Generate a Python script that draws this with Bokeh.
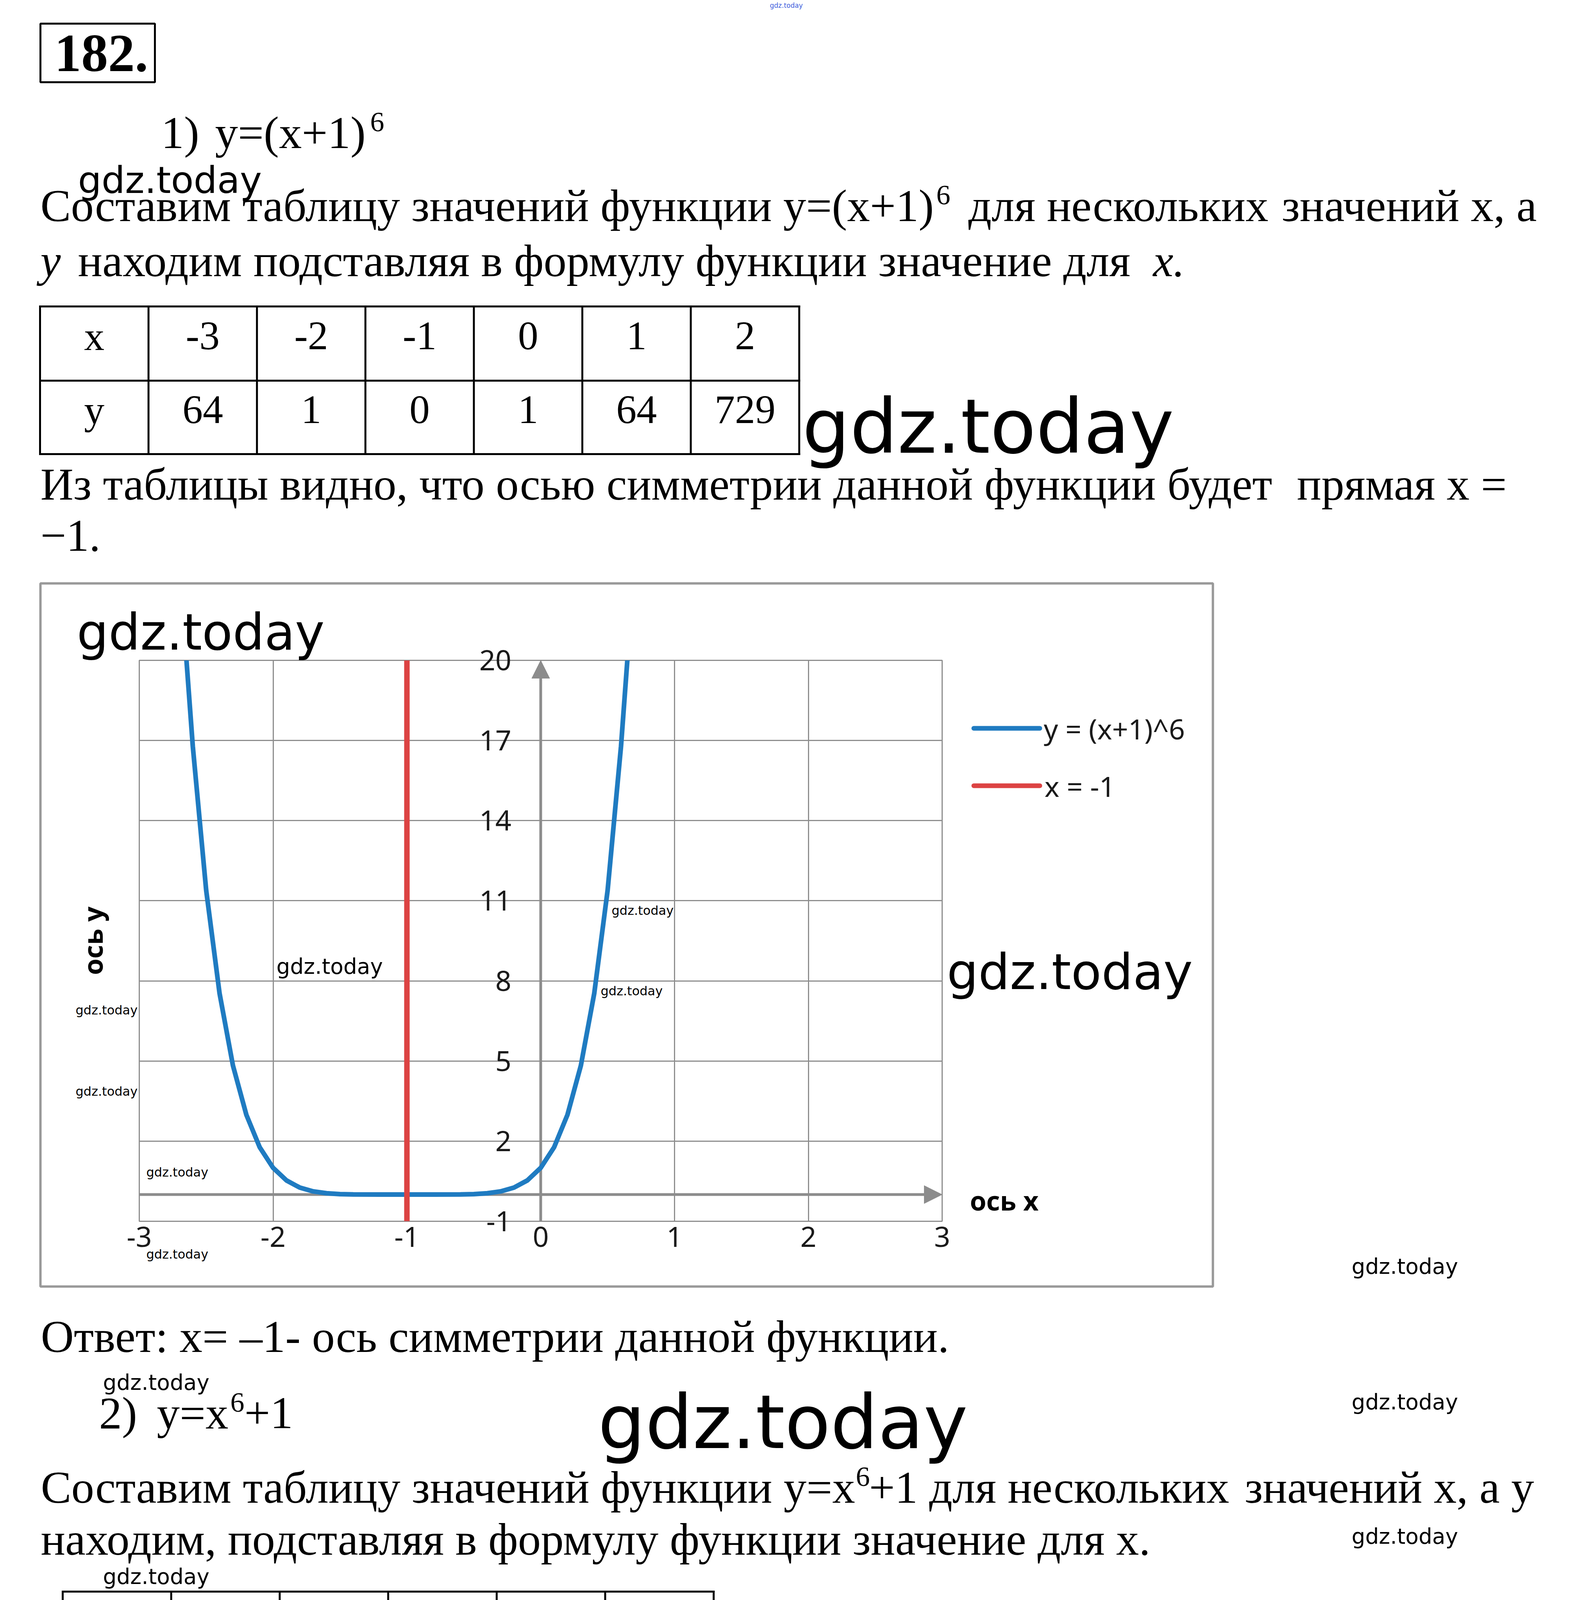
import math
from bokeh.plotting import figure
from bokeh.models import Range1d, FixedTicker, Span, Arrow, NormalHead
from bokeh.layouts import column
from bokeh.core.properties import value
from bokeh.embed import file_html
from bokeh.resources import INLINE

# ---------------- data ----------------
table1_x = [-3, -2, -1, 0, 1, 2]
table1_y = [64, 1, 0, 1, 64, 729]
table2_x = [-2, -1, 0, 1, 2]
table2_y = [65, 2, 1, 2, 65]

curve1_x = [-2.65, -2.6, -2.5, -2.4, -2.3, -2.2, -2.1, -2.0, -1.9, -1.8, -1.7, -1.6,
            -1.5, -1.4, -1.2, -1.0, -0.8, -0.6, -0.5, -0.4, -0.3, -0.2, -0.1, 0.0,
            0.1, 0.2, 0.3, 0.4, 0.5, 0.6, 0.65]
curve1_y = [20.18, 16.78, 11.39, 7.53, 4.83, 2.99, 1.77, 1.0, 0.53, 0.26, 0.12, 0.05,
            0.016, 0.004, 0.0, 0.0, 0.0, 0.004, 0.016, 0.05, 0.12, 0.26, 0.53, 1.0,
            1.77, 2.99, 4.83, 7.53, 11.39, 16.78, 20.18]
symmetry1_x = -1
chart1_x_range = (-3, 3)
chart1_y_range = (-1, 20)
chart1_x_ticks = [-3, -2, -1, 0, 1, 2, 3]
chart1_y_ticks = [-1, 2, 5, 8, 11, 14, 17, 20]
legend1_labels = ["y = (x+1)^6", "x = -1"]

curve2_x = [-1.55, -1.5, -1.45, -1.4, -1.35, -1.3, -1.25, -1.2, -1.1, -1.0, -0.9, -0.8,
            -0.7, -0.6, -0.4, -0.2, 0.0, 0.2, 0.4, 0.6, 0.7, 0.8, 0.9, 1.0, 1.1, 1.2,
            1.25, 1.3, 1.35, 1.4, 1.45, 1.5, 1.55]
curve2_y = [14.87, 12.39, 10.29, 8.53, 7.05, 5.83, 4.81, 3.99, 2.77, 2.0, 1.53, 1.26,
            1.12, 1.05, 1.004, 1.0, 1.0, 1.0, 1.004, 1.05, 1.12, 1.26, 1.53, 2.0, 2.77,
            3.99, 4.81, 5.83, 7.05, 8.53, 10.29, 12.39, 14.87]
chart2_x_range = (-2.5, 2.5)
chart2_y_range = (-1, 14)
chart2_x_ticks = [-2.5, -2, -1.5, -1, -0.5, 0, 0.5, 1, 1.5, 2, 2.5]
chart2_x_labels = ["-2,5", "-2", "-1,5", "-1", "-0,5", "0", "0,5", "1", "1,5", "2", "2,5"]
chart2_y_ticks = [-1, 0, 1, 2, 3, 4, 5, 6, 7, 8, 9, 10, 11, 12, 13, 14]
legend2_labels = ['"y = x^6+1']
axis_cross_x = 0

# ---------------- style ----------------
M = 8
W = 4023
SERIF = value("Liberation Serif")
SANS = value("Noto Sans")
BSANS = value("Open Sans")
WMF = value("DejaVu Sans")
BLUE = "#1f7bc1"
RED = "#dc4343"
GRID = "#8e8e8e"
AXIS = "#8c8c8c"
BOX = "#999999"
TICK = "#1a1a1a"
BODY = 117
SUP = 72
TABLE = 104
K = 0.33   # baseline correction (fraction of font size)


def band(top, bottom):
    p = figure(width=W, height=bottom - top, x_range=Range1d(M, M + W),
               y_range=Range1d(bottom, top), output_backend="svg",
               toolbar_location=None, min_border=0, x_axis_location=None,
               y_axis_location=None, outline_line_color=None,
               background_fill_color="white", border_fill_color="white",
               frame_align=False)
    p.grid.visible = False
    return p


def text(p, x, y, s, size, font=SERIF, style="normal", align="left",
         baseline="alphabetic", color="black", angle=0.0, page=False):
    kw = {}
    if page:
        kw = dict(x_range_name="page", y_range_name="page", level="overlay")
    if baseline == "alphabetic":
        y = y - K * size
    p.text(x=[x], y=[y], text=[s], text_font=font, text_font_size=f"{size}px",
           text_font_style=style, text_align=align, text_baseline=baseline,
           text_color=color, angle=angle, **kw)


def sup(p, x, y, s):
    text(p, x, y - 0.36 * BODY, s, SUP)


def wm(p, x, y, w, page=False, color="black"):
    text(p, x, y, "gdz.today", round(w / 4.956), font=WMF, color=color, page=page)


def table(p, left, col_w, lines, baselines, xs, ys):
    ncol = len(xs) + 1
    right = left + ncol * col_w
    p.segment(x0=[left] * len(lines), x1=[right] * len(lines), y0=lines, y1=lines,
              line_color="black", line_width=5, line_cap="square")
    vx = [left + i * col_w for i in range(ncol + 1)]
    p.segment(x0=vx, x1=vx, y0=[lines[0]] * len(vx), y1=[lines[-1]] * len(vx),
              line_color="black", line_width=5, line_cap="square")
    cx = [left + (i + 0.5) * col_w for i in range(ncol)]
    for row, vals in ((0, ["x"] + [str(v) for v in xs]), (1, ["y"] + [str(v) for v in ys])):
        p.text(x=cx, y=[baselines[row] - K * TABLE] * ncol, text=vals,
               text_font=SERIF, text_font_size=f"{TABLE}px", text_align="center",
               text_baseline="alphabetic", text_color="black")


def chart_band(top, bottom, fl, fr, ft, fb, xr, yr, x_axis):
    p = figure(width=W, height=bottom - top, x_range=Range1d(*xr), y_range=Range1d(*yr),
               output_backend="svg", toolbar_location=None,
               min_border_left=fl - M, min_border_right=M + W - fr,
               min_border_top=ft - top, min_border_bottom=bottom - fb,
               x_axis_location="below" if x_axis else None, y_axis_location=None,
               background_fill_color="white", border_fill_color="white",
               outline_line_color=GRID, outline_line_width=3, frame_align=False)
    p.extra_x_ranges = {"page": Range1d(fl, fr)}
    p.extra_y_ranges = {"page": Range1d(fb, ft)}
    return p


def setup_grid(p, xt, yt):
    p.xgrid.ticker = FixedTicker(ticks=xt)
    p.ygrid.ticker = FixedTicker(ticks=yt)
    for g in (p.xgrid, p.ygrid):
        g.grid_line_color = GRID
        g.grid_line_width = 3


def axes_arrows(p, xr, yr):
    p.add_layout(Arrow(end=NormalHead(size=46, fill_color=AXIS, line_color=AXIS),
                       x_start=xr[0], y_start=0, x_end=xr[1], y_end=0,
                       line_color=AXIS, line_width=7, level="underlay"))
    p.add_layout(Arrow(end=NormalHead(size=46, fill_color=AXIS, line_color=AXIS),
                       x_start=axis_cross_x, y_start=yr[0], x_end=axis_cross_x, y_end=yr[1],
                       line_color=AXIS, line_width=7, level="underlay"))


def box(p, l, r, t, b):
    p.quad(left=[l], right=[r], top=[t], bottom=[b], fill_color=None,
           line_color=BOX, line_width=6, x_range_name="page", y_range_name="page",
           level="overlay")


def legend_entry(p, x0, x1, y, color, label, tx):
    p.segment(x0=[x0], x1=[x1], y0=[y], y1=[y], line_color=color, line_width=12,
              line_cap="round", x_range_name="page", y_range_name="page", level="overlay")
    text(p, tx, y, label, 72, font=SANS, baseline="middle", color=TICK, page=True)


# ---------------- band A: header, table 1 ----------------
pA = band(M, 1495)
text(pA, 1978, 27, "gdz.today", 17, font=WMF, color="#3b5bdb")
pA.quad(left=[111], right=[404], top=[68], bottom=[218], fill_color=None,
        line_color="black", line_width=5)
text(pA, 147, 189, "182.", 137, style="bold")
text(pA, 420, 386, "1)", BODY)
text(pA, 558, 386, "y=(x+1)", BODY)
sup(pA, 955, 386, "6")
text(pA, 111, 573, "Составим таблицу значений функции y=(x+1)", BODY)
sup(pA, 2404, 573, "6")
text(pA, 2486, 573, "для нескольких", BODY)
text(pA, 3941, 573, "значений x, а", BODY, align="right")
text(pA, 111, 714, "y", BODY, style="italic")
text(pA, 207, 714, "находим подставляя в формулу функции значение для", BODY)
text(pA, 3040, 714, "x.", BODY, style="italic", align="right")
table(pA, 110, 277.6, [792, 982, 1170], [902, 1091], table1_x, table1_y)
text(pA, 111, 1286, "Из таблицы видно, что осью симметрии данной функции будет", BODY)
text(pA, 3864, 1286, "прямая x =", BODY, align="right")
text(pA, 111, 1418, "−1.", BODY)
wm(pA, 207, 500, 471)
wm(pA, 2061, 1163, 953)

# ---------------- band B: chart 1 ----------------
pB = chart_band(1495, 3310, 364, 2419, 1698, 3134, chart1_x_range, chart1_y_range, True)
setup_grid(pB, chart1_x_ticks, chart1_y_ticks)
ax = pB.xaxis[0]
ax.ticker = FixedTicker(ticks=chart1_x_ticks)
ax.major_label_overrides = {t: str(t) for t in chart1_x_ticks}
ax.axis_line_color = None
ax.major_tick_line_color = None
ax.minor_tick_line_color = None
ax.major_label_standoff = 8
ax.major_label_text_font = "Noto Sans"
ax.major_label_text_font_size = "72px"
ax.major_label_text_color = TICK
axes_arrows(pB, chart1_x_range, chart1_y_range)
pB.line(curve1_x, curve1_y, line_color=BLUE, line_width=12)
pB.add_layout(Span(location=symmetry1_x, dimension="height", line_color=RED, line_width=14))
pB.text(x=[axis_cross_x] * len(chart1_y_ticks), y=chart1_y_ticks,
        text=[str(t) for t in chart1_y_ticks], x_offset=-75, text_align="right",
        text_baseline="middle", text_font=SANS, text_font_size="72px",
        text_color=TICK, level="overlay")
box(pB, 111, 3112, 1501, 3301)
legend_entry(pB, 2500, 2669, 1872, BLUE, legend1_labels[0], 2679)
legend_entry(pB, 2500, 2669, 2019, RED, legend1_labels[1], 2681)
text(pB, 244, 2416, "ось y", 68, font=BSANS, style="bold", align="center",
     baseline="middle", angle=math.pi / 2, page=True)
text(pB, 2490, 3080, "ось x", 68, font=BSANS, style="bold", baseline="middle", page=True)
for (x, y, w) in [(204, 1668, 632), (715, 2500, 273), (1573, 2349, 160), (1545, 2555, 161),
                  (201, 2604, 160), (201, 2812, 160), (382, 3019, 160), (382, 3229, 160),
                  (2431, 2537, 630), (3467, 3268, 271)]:
    wm(pB, x, y, w, page=True)

# ---------------- band C: text, table 2 ----------------
pC = band(3310, 4645)
text(pC, 112, 3468, "Ответ: x= –1- ось симметрии данной функции.", BODY)
text(pC, 261, 3664, "2)", BODY)
text(pC, 409, 3664, "y=x", BODY)
sup(pC, 597, 3664, "6")
text(pC, 633, 3664, "+1", BODY)
text(pC, 112, 3854, "Составим таблицу значений функции y=x", BODY)
sup(pC, 2198, 3854, "6")
text(pC, 2232, 3854, "+1 для нескольких", BODY)
text(pC, 3934, 3854, "значений x, а y", BODY, align="right")
text(pC, 112, 3987, "находим, подставляя в формулу функции значение для x.", BODY)
table(pC, 168, 277.7, [4082, 4271, 4458], [4190, 4377], table2_x, table2_y)
text(pC, 168, 4568, "Из таблицы видно, что ось симметрии данной функции будет прямая x=0.", BODY)
for (x, y, w) in [(271, 3565, 271), (1538, 3712, 947), (3467, 3615, 271),
                  (3467, 3959, 271), (271, 4062, 271), (231, 4441, 208)]:
    wm(pC, x, y, w)

# ---------------- band D: chart 2 ----------------
pD = chart_band(4645, 7120, 420, 2474, 4906, 6883, chart2_x_range, chart2_y_range, False)
setup_grid(pD, chart2_x_ticks, chart2_y_ticks)
axes_arrows(pD, chart2_x_range, chart2_y_range)
pD.line(curve2_x, curve2_y, line_color=BLUE, line_width=12)
pD.text(x=[axis_cross_x] * len(chart2_y_ticks), y=chart2_y_ticks,
        text=[str(t) for t in chart2_y_ticks], x_offset=-73, text_align="right",
        text_baseline="middle", text_font=SANS, text_font_size="72px",
        text_color=TICK, level="overlay")
pD.text(x=chart2_x_ticks, y=[-0.81] * len(chart2_x_ticks), text=chart2_x_labels,
        text_align="center", text_baseline="middle", text_font=SANS,
        text_font_size="72px", text_color=TICK, level="overlay")
box(pD, 169, 3166, 4650, 7112)
legend_entry(pD, 2599, 2767, 5234, BLUE, legend2_labels[0], 2785)
text(pD, 297, 5863, "ось y", 66, font=BSANS, style="bold", align="center",
     baseline="middle", angle=math.pi / 2, page=True)
text(pD, 2561, 6763, "ось x", 68, font=BSANS, style="bold", baseline="middle", page=True)
for (x, y, w) in [(1240, 4849, 632), (2533, 4850, 630), (307, 4887, 272), (205, 5391, 210),
                  (205, 5667, 210), (668, 5593, 162), (1064, 5593, 162), (668, 5801, 162),
                  (1064, 5801, 162), (2222, 6121, 941), (284, 7051, 947)]:
    wm(pD, x, y, w, page=True)

# ---------------- band E: final answer ----------------
pE = band(7120, 7310)
text(pE, 169, 7280, "Ответ: x=0- ось симметрии данной функции.", BODY)

layout = column(pA, pB, pC, pD, pE, spacing=0)
open("out.html", "w").write(file_html(layout, INLINE))
